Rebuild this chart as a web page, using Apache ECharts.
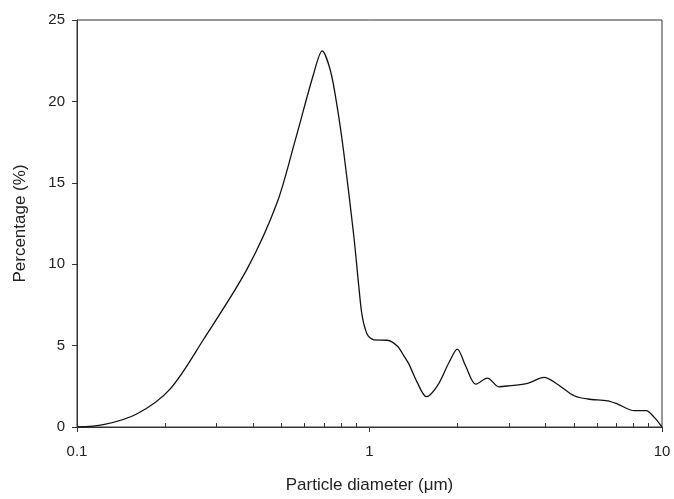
<!DOCTYPE html>
<html>
<head>
<meta charset="utf-8">
<script src="https://cdn.jsdelivr.net/npm/echarts@6/dist/echarts.min.js"></script>
<style>
  html, body { margin: 0; padding: 0; background: #fff; }
  #chart { width: 674px; height: 499px; }
</style>
</head>
<body>
<div id="chart"></div>
<script>
// Particle size distribution (percentage per size class)
const diameters = [
  0.1, 0.123, 0.16, 0.208, 0.271, 0.381, 0.483, 0.558, 0.645, 0.689,
  0.735, 0.775, 0.817, 0.884, 0.919, 0.944, 0.982, 1.035, 1.15,
  1.244, 1.311, 1.364, 1.456, 1.564, 1.706, 1.87, 1.996, 2.13, 2.307,
  2.53, 2.77, 3.0, 3.47, 3.95, 4.39, 5.01, 5.57, 6.52, 7.05,
  8.04, 8.82, 9.41, 10
];
const percentages = [
  0, 0.14, 0.8, 2.33, 5.39, 9.68, 13.77, 17.65, 21.73, 23.1,
  21.9, 19.69, 16.83, 11.72, 8.66, 6.82, 5.7, 5.35, 5.33,
  4.98, 4.37, 3.86, 2.74, 1.86, 2.53, 3.96, 4.78, 3.76, 2.63,
  3.0, 2.47, 2.53, 2.68, 3.05, 2.63, 1.92, 1.72, 1.61, 1.41,
  1.0, 1.0, 0.59, 0
];
const majorTicksX = [0.1, 1, 10];
const minorTicksX = [0.2, 0.3, 0.4, 0.5, 0.6, 0.7, 0.8, 0.9, 2, 3, 4, 5, 6, 7, 8, 9];
const yTicks = [0, 5, 10, 15, 20, 25];

const font = 'Liberation Sans, Arial, sans-serif';
const chart = echarts.init(document.getElementById('chart'));

chart.setOption({
  animation: false,
  grid: {
    left: 77, right: 12, top: 20, bottom: 71,
    show: true, borderColor: '#333', borderWidth: 1
  },
  xAxis: [
    {
      type: 'log', logBase: 10, min: 0.1, max: 10,
      name: 'Particle diameter (\u03bcm)',
      nameLocation: 'middle', nameGap: 50,
      nameTextStyle: { fontFamily: font, fontSize: 17, color: '#222' },
      axisLine: { lineStyle: { color: '#333', width: 1 } },
      axisTick: { show: true, inside: false, length: 5, customValues: majorTicksX, lineStyle: { color: '#333' } },
      axisLabel: { customValues: majorTicksX, fontFamily: font, fontSize: 15, color: '#222', margin: 17,
        formatter: v => String(v) },
      minorTick: { show: false },
      splitLine: { show: false }
    },
    {
      type: 'log', logBase: 10, min: 0.1, max: 10,
      position: 'bottom',
      axisLine: { show: false },
      axisTick: { show: true, inside: true, length: 4, customValues: minorTicksX, lineStyle: { color: '#333' } },
      axisLabel: { show: false },
      splitLine: { show: false }
    }
  ],
  yAxis: {
    type: 'value', min: 0, max: 25, interval: 5,
    name: 'Percentage (%)',
    nameLocation: 'middle', nameGap: 48,
    nameTextStyle: { fontFamily: font, fontSize: 17, color: '#222' },
    axisLine: { show: true, lineStyle: { color: '#333', width: 1 } },
    axisTick: { show: true, inside: false, length: 5, customValues: yTicks, lineStyle: { color: '#333' } },
    axisLabel: { customValues: yTicks, fontFamily: font, fontSize: 15, color: '#222', margin: 12 },
    splitLine: { show: false }
  },
  series: [{
    type: 'line',
    xAxisIndex: 0,
    data: diameters.map((d, i) => [d, percentages[i]]),
    showSymbol: false,
    smooth: 0.3,
    lineStyle: { color: '#111', width: 1.3 }
  }]
});
</script>
</body>
</html>
